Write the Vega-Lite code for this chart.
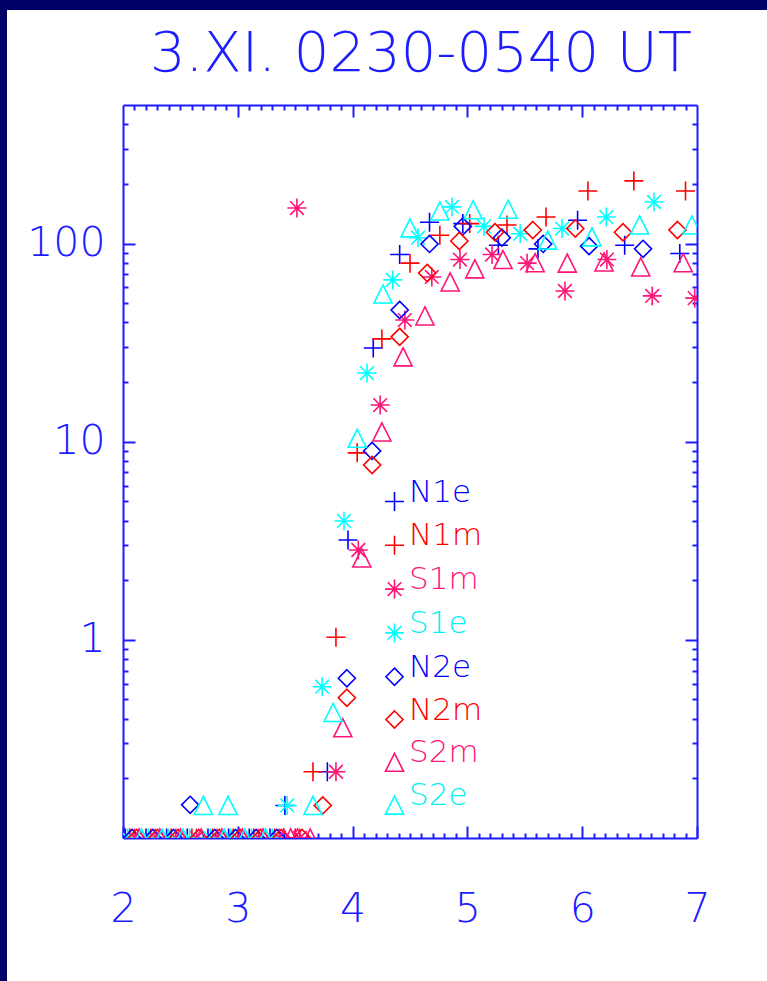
{
  "$schema": "https://vega.github.io/schema/vega-lite/v6.json",
  "background": "white",
  "padding": 0,
  "spacing": 0,
  "vconcat": [
    {
      "width": 767,
      "height": 10,
      "view": {"fill": "#000068", "stroke": null},
      "data": {"values": []},
      "mark": {"type": "rule", "opacity": 0},
      "encoding": {}
    },
    {
      "spacing": 0,
      "hconcat": [
        {
          "width": 7,
          "height": 971,
          "view": {"fill": "#000068", "stroke": null},
          "data": {"values": []},
          "mark": {"type": "rule", "opacity": 0},
          "encoding": {}
        },
        {
          "spacing": 14,
          "vconcat": [
            {
              "width": 10,
              "height": 2,
              "data": {"values": []},
              "mark": {"type": "rule", "opacity": 0},
              "encoding": {}
            },
            {
              "width": 574,
              "height": 733,
              "title": {
                "text": "3.XI. 0230-0540 UT",
                "font": "DejaVu Sans",
                "fontSize": 56,
                "fontWeight": 200,
                "color": "#1c1cff",
                "anchor": "middle",
                "dx": 11,
                "offset": 21
              },
              "data": {
                "values": [
                  {"x": 3.41, "y": 0.146, "s": "N1e"}, {"x": 3.78, "y": 0.216, "s": "N1e"}, {"x": 3.96, "y": 3.19, "s": "N1e"},
                  {"x": 4.18, "y": 29.7, "s": "N1e"}, {"x": 4.41, "y": 88, "s": "N1e"}, {"x": 4.67, "y": 128, "s": "N1e"},
                  {"x": 4.96, "y": 126, "s": "N1e"}, {"x": 5.27, "y": 98, "s": "N1e"}, {"x": 5.615, "y": 94, "s": "N1e"},
                  {"x": 5.96, "y": 131, "s": "N1e"}, {"x": 6.37, "y": 98, "s": "N1e"}, {"x": 6.85, "y": 89, "s": "N1e"},
                  {"x": 2.02, "y": 0.1, "s": "N1e"}, {"x": 2.2, "y": 0.1, "s": "N1e"}, {"x": 2.38, "y": 0.1, "s": "N1e"},
                  {"x": 2.56, "y": 0.1, "s": "N1e"}, {"x": 2.74, "y": 0.1, "s": "N1e"}, {"x": 2.92, "y": 0.1, "s": "N1e"},
                  {"x": 3.1, "y": 0.1, "s": "N1e"}, {"x": 3.28, "y": 0.1, "s": "N1e"},

                  {"x": 3.655, "y": 0.216, "s": "N1m"}, {"x": 3.855, "y": 1.03, "s": "N1m"}, {"x": 4.04, "y": 8.78, "s": "N1m"},
                  {"x": 4.255, "y": 33.0, "s": "N1m"}, {"x": 4.5, "y": 79.6, "s": "N1m"}, {"x": 4.76, "y": 110, "s": "N1m"},
                  {"x": 5.02, "y": 126, "s": "N1m"}, {"x": 5.345, "y": 124, "s": "N1m"}, {"x": 5.685, "y": 136, "s": "N1m"},
                  {"x": 6.05, "y": 184, "s": "N1m"}, {"x": 6.45, "y": 207, "s": "N1m"}, {"x": 6.9, "y": 184, "s": "N1m"},
                  {"x": 2.06, "y": 0.1, "s": "N1m"}, {"x": 2.24, "y": 0.1, "s": "N1m"}, {"x": 2.42, "y": 0.1, "s": "N1m"},
                  {"x": 2.6, "y": 0.1, "s": "N1m"}, {"x": 2.78, "y": 0.1, "s": "N1m"}, {"x": 2.96, "y": 0.1, "s": "N1m"},
                  {"x": 3.14, "y": 0.1, "s": "N1m"}, {"x": 3.32, "y": 0.1, "s": "N1m"}, {"x": 3.5, "y": 0.1, "s": "N1m"},

                  {"x": 3.515, "y": 151, "s": "S1m"}, {"x": 3.855, "y": 0.216, "s": "S1m"}, {"x": 4.05, "y": 2.84, "s": "S1m"},
                  {"x": 4.24, "y": 15.3, "s": "S1m"}, {"x": 4.455, "y": 41.1, "s": "S1m"}, {"x": 4.69, "y": 67.8, "s": "S1m"},
                  {"x": 4.935, "y": 83, "s": "S1m"}, {"x": 5.215, "y": 88, "s": "S1m"}, {"x": 5.52, "y": 79.6, "s": "S1m"},
                  {"x": 5.85, "y": 57.6, "s": "S1m"}, {"x": 6.215, "y": 83, "s": "S1m"}, {"x": 6.61, "y": 54.4, "s": "S1m"},
                  {"x": 6.98, "y": 53, "s": "S1m"},
                  {"x": 2.1, "y": 0.1, "s": "S1m"}, {"x": 2.28, "y": 0.1, "s": "S1m"}, {"x": 2.46, "y": 0.1, "s": "S1m"},
                  {"x": 2.64, "y": 0.1, "s": "S1m"}, {"x": 2.82, "y": 0.1, "s": "S1m"}, {"x": 3.0, "y": 0.1, "s": "S1m"},
                  {"x": 3.18, "y": 0.1, "s": "S1m"}, {"x": 3.36, "y": 0.1, "s": "S1m"}, {"x": 3.54, "y": 0.1, "s": "S1m"},

                  {"x": 3.43, "y": 0.146, "s": "S1e"}, {"x": 3.735, "y": 0.58, "s": "S1e"}, {"x": 3.925, "y": 3.98, "s": "S1e"},
                  {"x": 4.125, "y": 22.2, "s": "S1e"}, {"x": 4.35, "y": 65.5, "s": "S1e"}, {"x": 4.57, "y": 107, "s": "S1e"},
                  {"x": 4.865, "y": 153, "s": "S1e"}, {"x": 5.145, "y": 122, "s": "S1e"}, {"x": 5.46, "y": 112, "s": "S1e"},
                  {"x": 5.825, "y": 119, "s": "S1e"}, {"x": 6.21, "y": 136, "s": "S1e"}, {"x": 6.625, "y": 162, "s": "S1e"},
                  {"x": 2.04, "y": 0.1, "s": "S1e"}, {"x": 2.22, "y": 0.1, "s": "S1e"}, {"x": 2.4, "y": 0.1, "s": "S1e"},
                  {"x": 2.58, "y": 0.1, "s": "S1e"}, {"x": 2.76, "y": 0.1, "s": "S1e"}, {"x": 2.94, "y": 0.1, "s": "S1e"},
                  {"x": 3.12, "y": 0.1, "s": "S1e"}, {"x": 3.3, "y": 0.1, "s": "S1e"},

                  {"x": 2.585, "y": 0.147, "s": "N2e"}, {"x": 3.95, "y": 0.64, "s": "N2e"}, {"x": 4.17, "y": 8.98, "s": "N2e"},
                  {"x": 4.41, "y": 46.2, "s": "N2e"}, {"x": 4.67, "y": 99.5, "s": "N2e"}, {"x": 4.96, "y": 122, "s": "N2e"},
                  {"x": 5.3, "y": 107, "s": "N2e"}, {"x": 5.66, "y": 99.5, "s": "N2e"}, {"x": 6.06, "y": 97, "s": "N2e"},
                  {"x": 6.53, "y": 94, "s": "N2e"},
                  {"x": 2.08, "y": 0.1, "s": "N2e"}, {"x": 2.26, "y": 0.1, "s": "N2e"}, {"x": 2.44, "y": 0.1, "s": "N2e"},
                  {"x": 2.8, "y": 0.1, "s": "N2e"}, {"x": 2.98, "y": 0.1, "s": "N2e"}, {"x": 3.16, "y": 0.1, "s": "N2e"},
                  {"x": 3.34, "y": 0.1, "s": "N2e"},

                  {"x": 3.74, "y": 0.146, "s": "N2m"}, {"x": 3.95, "y": 0.51, "s": "N2m"}, {"x": 4.17, "y": 7.63, "s": "N2m"},
                  {"x": 4.41, "y": 33.8, "s": "N2m"}, {"x": 4.65, "y": 71, "s": "N2m"}, {"x": 4.93, "y": 103, "s": "N2m"},
                  {"x": 5.24, "y": 114, "s": "N2m"}, {"x": 5.57, "y": 117, "s": "N2m"}, {"x": 5.94, "y": 119, "s": "N2m"},
                  {"x": 6.355, "y": 114, "s": "N2m"}, {"x": 6.83, "y": 117, "s": "N2m"},
                  {"x": 2.12, "y": 0.1, "s": "N2m"}, {"x": 2.3, "y": 0.1, "s": "N2m"}, {"x": 2.48, "y": 0.1, "s": "N2m"},
                  {"x": 2.66, "y": 0.1, "s": "N2m"}, {"x": 2.84, "y": 0.1, "s": "N2m"}, {"x": 3.02, "y": 0.1, "s": "N2m"},
                  {"x": 3.2, "y": 0.1, "s": "N2m"}, {"x": 3.38, "y": 0.1, "s": "N2m"}, {"x": 3.56, "y": 0.1, "s": "N2m"},

                  {"x": 3.63, "y": 0.1, "s": "S2m"}, {"x": 3.915, "y": 0.36, "s": "S2m"}, {"x": 4.08, "y": 2.59, "s": "S2m"},
                  {"x": 4.255, "y": 11.2, "s": "S2m"}, {"x": 4.44, "y": 26.8, "s": "S2m"}, {"x": 4.63, "y": 43.1, "s": "S2m"},
                  {"x": 4.85, "y": 64, "s": "S2m"}, {"x": 5.065, "y": 74.5, "s": "S2m"}, {"x": 5.31, "y": 83, "s": "S2m"},
                  {"x": 5.59, "y": 80, "s": "S2m"}, {"x": 5.87, "y": 79.6, "s": "S2m"}, {"x": 6.19, "y": 80.7, "s": "S2m"},
                  {"x": 6.51, "y": 76.2, "s": "S2m"}, {"x": 6.88, "y": 80, "s": "S2m"},
                  {"x": 2.14, "y": 0.1, "s": "S2m"}, {"x": 2.32, "y": 0.1, "s": "S2m"}, {"x": 2.5, "y": 0.1, "s": "S2m"},
                  {"x": 2.68, "y": 0.1, "s": "S2m"}, {"x": 2.86, "y": 0.1, "s": "S2m"}, {"x": 3.04, "y": 0.1, "s": "S2m"},
                  {"x": 3.22, "y": 0.1, "s": "S2m"}, {"x": 3.4, "y": 0.1, "s": "S2m"}, {"x": 3.46, "y": 0.1, "s": "S2m"},
                  {"x": 3.52, "y": 0.1, "s": "S2m"},

                  {"x": 2.7, "y": 0.146, "s": "S2e"}, {"x": 2.915, "y": 0.146, "s": "S2e"}, {"x": 3.655, "y": 0.146, "s": "S2e"},
                  {"x": 3.83, "y": 0.43, "s": "S2e"}, {"x": 4.04, "y": 10.4, "s": "S2e"}, {"x": 4.265, "y": 55.6, "s": "S2e"},
                  {"x": 4.5, "y": 120, "s": "S2e"}, {"x": 4.76, "y": 146, "s": "S2e"}, {"x": 5.05, "y": 148, "s": "S2e"},
                  {"x": 5.355, "y": 149, "s": "S2e"}, {"x": 5.7, "y": 104, "s": "S2e"}, {"x": 6.085, "y": 108, "s": "S2e"},
                  {"x": 6.5, "y": 124, "s": "S2e"}, {"x": 6.955, "y": 124, "s": "S2e"},
                  {"x": 2.16, "y": 0.1, "s": "S2e"}, {"x": 2.34, "y": 0.1, "s": "S2e"}, {"x": 2.52, "y": 0.1, "s": "S2e"},
                  {"x": 2.88, "y": 0.1, "s": "S2e"}, {"x": 3.06, "y": 0.1, "s": "S2e"}, {"x": 3.24, "y": 0.1, "s": "S2e"}
                ]
              },
              "resolve": {"axis": {"x": "independent", "y": "independent"}},
              "layer": [
                {
                  "mark": {"type": "point", "filled": false, "strokeWidth": 1.6, "size": 361, "opacity": 1, "clip": true},
                  "encoding": {
                    "x": {
                      "field": "x", "type": "quantitative",
                      "scale": {"domain": [2, 7], "nice": false, "zero": false},
                      "axis": {
                        "orient": "bottom", "values": [2, 3, 4, 5, 6, 7], "format": "d", "title": null,
                        "grid": false, "domainColor": "#1c1cff", "domainWidth": 2,
                        "tickSize": -12, "tickColor": "#1c1cff", "tickWidth": 2,
                        "labelFont": "DejaVu Sans", "labelFontSize": 41, "labelFontWeight": 200,
                        "labelColor": "#1c1cff", "labelPadding": 63, "labelFlush": false, "labelOverlap": false
                      }
                    },
                    "y": {
                      "field": "y", "type": "quantitative",
                      "scale": {"type": "log", "domain": [0.1, 500], "nice": false},
                      "axis": {
                        "orient": "left", "values": [1, 10, 100], "format": "d", "title": null,
                        "grid": false, "domainColor": "#1c1cff", "domainWidth": 2,
                        "tickSize": -12, "tickColor": "#1c1cff", "tickWidth": 2,
                        "labelFont": "DejaVu Sans", "labelFontSize": 41, "labelFontWeight": 200,
                        "labelColor": "#1c1cff", "labelPadding": 30, "labelFlush": false, "labelOverlap": false,
                        "minExtent": 116
                      }
                    },
                    "color": {
                      "field": "s", "type": "nominal",
                      "scale": {
                        "domain": ["N1e", "N1m", "S1m", "S1e", "N2e", "N2m", "S2m", "S2e"],
                        "range": ["#0000ff", "#ff0000", "#ff1478", "#00ffff", "#0000ff", "#ff0000", "#ff1478", "#00ffff"]
                      },
                      "legend": {
                        "orient": "none", "legendX": 379, "legendY": 486, "title": null, "padding": 0,
                        "symbolSize": 361, "symbolStrokeWidth": 1.6,
                        "labelColor": {"expr": "datum.value == 'N1e' || datum.value == 'N2e' ? '#0000ff' : datum.value == 'N1m' || datum.value == 'N2m' ? '#ff0000' : datum.value == 'S1m' || datum.value == 'S2m' ? '#ff1478' : '#00f0f0'"},
                        "labelFont": "DejaVu Sans", "labelFontSize": 31, "labelFontWeight": 200,
                        "labelOffset": -1, "labelBaseline": "alphabetic", "labelLimit": 0, "rowPadding": 4.8,
                        "encode": {
                          "symbols": {"shape": {"value": {"expr": "datum.value == 'N1e' || datum.value == 'N1m' ? 'M-1.55,0H1.55M-0.55,-1V1M0.55,-1V1' : datum.value == 'S1m' || datum.value == 'S1e' ? 'M-1.55,0H1.55M-0.55,-1V1M0.55,-1V1M-1.27,-0.72L0.17,0.72M-1.27,0.72L0.17,-0.72M-0.17,-0.72L1.27,0.72M-0.17,0.72L1.27,-0.72' : datum.value == 'N2e' || datum.value == 'N2m' ? 'M-0.55,-0.9L0.35,0L-0.55,0.9L-1.45,0ZM0.55,-0.9L1.45,0L0.55,0.9L-0.35,0Z' : 'M-0.55,-0.95L0.4,0.95L-1.5,0.95ZM0.55,-0.95L1.5,0.95L-0.4,0.95Z'"}}}
                        }
                      }
                    },
                    "shape": {
                      "field": "s", "type": "nominal",
                      "legend": null,
                      "scale": {
                        "domain": ["N1e", "N1m", "S1m", "S1e", "N2e", "N2m", "S2m", "S2e"],
                        "range": [
                          "M-1,0H1M0,-1V1",
                          "M-1,0H1M0,-1V1",
                          "M-1,0H1M0,-1V1M-0.72,-0.72L0.72,0.72M-0.72,0.72L0.72,-0.72",
                          "M-1,0H1M0,-1V1M-0.72,-0.72L0.72,0.72M-0.72,0.72L0.72,-0.72",
                          "M0,-0.9L0.9,0L0,0.9L-0.9,0Z",
                          "M0,-0.9L0.9,0L0,0.9L-0.9,0Z",
                          "M0,-0.95L0.95,0.95L-0.95,0.95Z",
                          "M0,-0.95L0.95,0.95L-0.95,0.95Z"
                        ]
                      }
                    }
                  }
                },
                {
                  "mark": {"type": "point", "opacity": 0},
                  "encoding": {
                    "x": {
                      "field": "x", "type": "quantitative",
                      "axis": {
                        "orient": "bottom", "title": null, "grid": false, "domain": false, "labels": false,
                        "values": [2.1, 2.2, 2.3, 2.4, 2.5, 2.6, 2.7, 2.8, 2.9, 3.1, 3.2, 3.3, 3.4, 3.5, 3.6, 3.7, 3.8, 3.9,
                                   4.1, 4.2, 4.3, 4.4, 4.5, 4.6, 4.7, 4.8, 4.9, 5.1, 5.2, 5.3, 5.4, 5.5, 5.6, 5.7, 5.8, 5.9,
                                   6.1, 6.2, 6.3, 6.4, 6.5, 6.6, 6.7, 6.8, 6.9],
                        "tickSize": -5, "tickColor": "#1c1cff", "tickWidth": 2
                      }
                    },
                    "y": {
                      "field": "y", "type": "quantitative",
                      "axis": {
                        "orient": "left", "title": null, "grid": false, "domain": false, "labels": false,
                        "values": [0.2, 0.3, 0.4, 0.5, 0.6, 0.7, 0.8, 0.9, 2, 3, 4, 5, 6, 7, 8, 9,
                                   20, 30, 40, 50, 60, 70, 80, 90, 200, 300, 400],
                        "tickSize": -5, "tickColor": "#1c1cff", "tickWidth": 2
                      }
                    }
                  }
                },
                {
                  "mark": {"type": "point", "opacity": 0},
                  "encoding": {
                    "x": {
                      "field": "x", "type": "quantitative",
                      "axis": {
                        "orient": "top", "title": null, "grid": false, "labels": false,
                        "values": [3, 4, 5, 6],
                        "domainColor": "#1c1cff", "domainWidth": 2,
                        "tickSize": -12, "tickColor": "#1c1cff", "tickWidth": 2
                      }
                    },
                    "y": {
                      "field": "y", "type": "quantitative",
                      "axis": {
                        "orient": "right", "title": null, "grid": false, "labels": false,
                        "values": [1, 10, 100],
                        "domainColor": "#1c1cff", "domainWidth": 2,
                        "tickSize": -12, "tickColor": "#1c1cff", "tickWidth": 2
                      }
                    }
                  }
                },
                {
                  "mark": {"type": "point", "opacity": 0},
                  "encoding": {
                    "x": {
                      "field": "x", "type": "quantitative",
                      "axis": {
                        "orient": "top", "title": null, "grid": false, "domain": false, "labels": false,
                        "values": [2.1, 2.2, 2.3, 2.4, 2.5, 2.6, 2.7, 2.8, 2.9, 3.1, 3.2, 3.3, 3.4, 3.5, 3.6, 3.7, 3.8, 3.9,
                                   4.1, 4.2, 4.3, 4.4, 4.5, 4.6, 4.7, 4.8, 4.9, 5.1, 5.2, 5.3, 5.4, 5.5, 5.6, 5.7, 5.8, 5.9,
                                   6.1, 6.2, 6.3, 6.4, 6.5, 6.6, 6.7, 6.8, 6.9],
                        "tickSize": -5, "tickColor": "#1c1cff", "tickWidth": 2
                      }
                    },
                    "y": {
                      "field": "y", "type": "quantitative",
                      "axis": {
                        "orient": "right", "title": null, "grid": false, "domain": false, "labels": false,
                        "values": [0.2, 0.3, 0.4, 0.5, 0.6, 0.7, 0.8, 0.9, 2, 3, 4, 5, 6, 7, 8, 9,
                                   20, 30, 40, 50, 60, 70, 80, 90, 200, 300, 400],
                        "tickSize": -5, "tickColor": "#1c1cff", "tickWidth": 2
                      }
                    }
                  }
                }
              ]
            }
          ]
        }
      ]
    }
  ],
  "config": {
    "view": {"stroke": null},
    "axis": {"labelFont": "DejaVu Sans"}
  }
}
